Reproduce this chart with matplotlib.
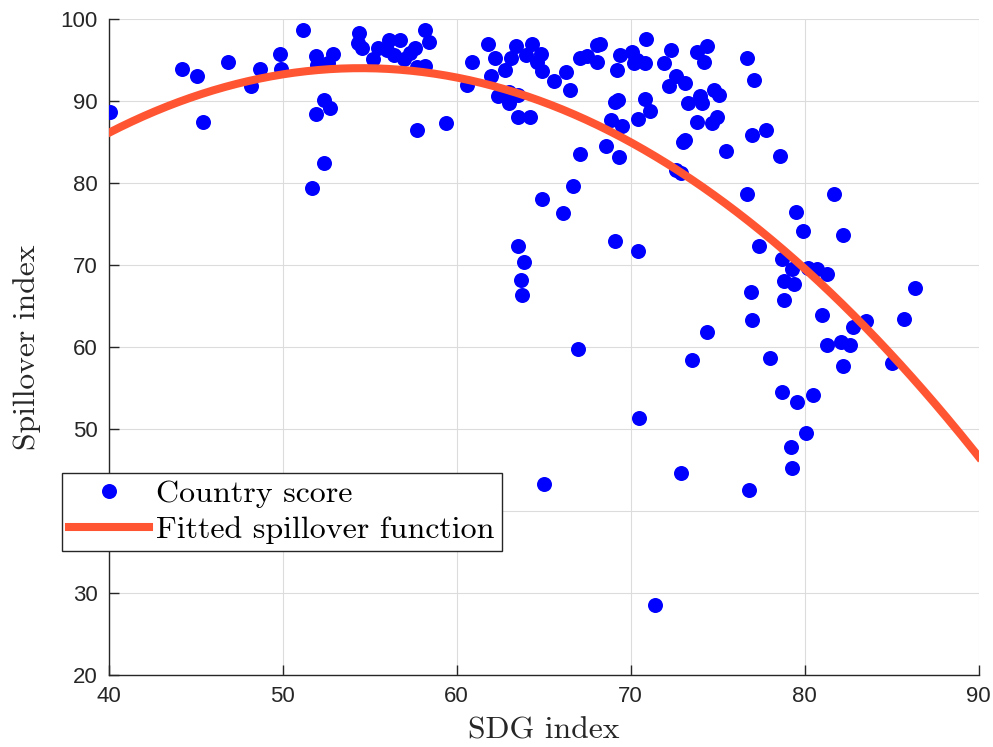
import numpy as np
import matplotlib
matplotlib.use("Agg")
import matplotlib.pyplot as plt

# ---- data ----
sdg = [
    40.1, 44.2, 45.1, 45.4, 46.85, 48.2, 48.7, 49.85, 49.9, 51.2,
    51.9, 52.9, 52.0, 52.6, 52.4, 52.7, 51.9, 52.4, 51.7, 54.4,
    54.35, 54.55, 55.2, 55.5, 56.1, 56.75, 56.0, 56.4, 57.0, 57.6,
    57.3, 58.2, 58.4, 57.7, 58.2, 57.7, 59.4, 60.6, 60.9, 61.8,
    62.2, 62.0, 62.8, 63.1, 63.4, 64.0, 64.35, 64.85, 64.6, 64.9,
    65.6, 66.3, 66.5, 62.4, 63.0, 63.5, 63.0, 63.5, 64.2, 67.1,
    67.5, 68.05, 68.05, 68.25, 69.2, 69.4, 70.1, 70.35, 70.8, 70.2,
    70.9, 71.9, 72.3, 72.6, 73.1, 72.2, 73.8, 74.4, 74.2, 76.7,
    77.1, 69.1, 69.3, 70.8, 71.1, 70.45, 68.9, 69.5, 73.3, 74.0,
    74.1, 74.8, 75.1, 73.8, 74.95, 74.7, 73.0, 73.1, 75.5, 77.0,
    77.8, 78.6, 72.6, 72.9, 68.6, 69.35, 67.1, 66.7, 64.9, 66.1,
    76.7, 81.7, 79.5, 79.9, 82.2, 77.35, 78.7, 79.3, 80.2, 80.7,
    81.3, 78.8, 79.4, 76.9, 78.8, 86.35, 76.97, 81.0, 83.5, 82.75,
    85.7, 74.4, 81.3, 82.1, 82.6, 82.2, 85.0, 73.5, 78.0, 63.55,
    63.9, 63.7, 63.75, 69.1, 70.45, 67.0, 70.5, 78.7, 79.55, 80.5,
    80.05, 79.2, 79.3, 72.9, 76.8, 65.0, 71.4,
]
spill = [
    88.6, 93.9, 93.0, 87.4, 94.7, 91.8, 93.9, 95.7, 93.9, 98.6,
    95.5, 95.7, 94.4, 94.6, 90.1, 89.2, 88.4, 82.4, 79.4, 98.3,
    97.1, 96.4, 95.1, 96.4, 97.4, 97.4, 96.2, 95.6, 95.1, 96.4,
    95.8, 98.7, 97.2, 94.2, 94.3, 86.4, 87.3, 91.9, 94.7, 97.0,
    95.2, 93.0, 93.8, 95.2, 96.7, 95.6, 96.95, 95.7, 94.7, 93.7,
    92.4, 93.5, 91.3, 90.6, 91.1, 90.7, 89.7, 88.1, 88.1, 95.2,
    95.5, 94.7, 96.8, 97.0, 93.8, 95.6, 96.0, 95.0, 94.6, 94.6,
    97.6, 94.6, 96.2, 93.0, 92.2, 91.8, 96.0, 96.7, 94.8, 95.2,
    92.6, 89.9, 90.1, 90.3, 88.8, 87.8, 87.7, 86.9, 89.8, 90.6,
    89.7, 91.3, 90.7, 87.4, 88.1, 87.3, 85.0, 85.3, 83.9, 85.9,
    86.5, 83.3, 81.6, 81.2, 84.5, 83.2, 83.5, 79.6, 78.0, 76.3,
    78.7, 78.6, 76.4, 74.2, 73.7, 72.3, 70.7, 69.5, 69.6, 69.5,
    68.9, 68.0, 67.7, 66.7, 65.7, 67.2, 63.3, 63.9, 63.2, 62.4,
    63.4, 61.8, 60.2, 60.6, 60.2, 57.7, 58.0, 58.4, 58.6, 72.3,
    70.4, 68.2, 66.3, 72.9, 71.7, 59.8, 51.3, 54.5, 53.3, 54.1,
    49.5, 47.8, 45.3, 44.6, 42.5, 43.3, 28.5,
]

# quadratic spillover function (coefficients)
fit_coef = [-0.0376, 4.0984, -17.68]

x_ticks = [40, 50, 60, 70, 80, 90]
y_ticks = [20, 30, 40, 50, 60, 70, 80, 90, 100]

# ---- figure ----
fig = plt.figure(figsize=(9.93, 7.47), dpi=100)
ax = fig.add_axes([0.1093, 0.0964, 0.8763, 0.8782])

ax.plot(sdg, spill, "o", color="#0000ff", markersize=10.8,
        markeredgewidth=0, label="Country score", zorder=3)

xx = np.linspace(40, 90, 300)
ax.plot(xx, np.polyval(fit_coef, xx), color="#ff5533", linewidth=5.8,
        label="Fitted spillover function", zorder=4)

ax.set_xlim(40, 90)
ax.set_ylim(20, 100)
ax.set_xticks(x_ticks)
ax.set_yticks(y_ticks)

ax.grid(True, color="#dcdcdc", linewidth=0.8)
ax.set_axisbelow(True)
for side in ["top", "right"]:
    ax.spines[side].set_visible(False)
for side in ["left", "bottom"]:
    ax.spines[side].set_color("#262626")
    ax.spines[side].set_linewidth(1.0)

ax.tick_params(direction="in", length=7, width=1.0, color="#262626",
               labelsize=16, labelcolor="#262626", pad=8)
for lab in ax.get_xticklabels() + ax.get_yticklabels():
    lab.set_fontfamily("Liberation Sans")

ax.set_xlabel("SDG index", fontfamily="cmr10", fontsize=22.8, labelpad=7,
              color="#262626")
ax.set_ylabel("Spillover index", fontfamily="cmr10", fontsize=22.8,
              labelpad=14, color="#262626")

leg = ax.legend(loc="upper left", bbox_to_anchor=(-0.0534, 0.308),
                borderaxespad=0, fancybox=False, framealpha=1,
                edgecolor="#262626", prop={"family": "cmr10", "size": 23},
                handlelength=2.5, handletextpad=0.22, labelspacing=0.23,
                borderpad=0.22)
leg.get_frame().set_linewidth(1.0)
leg.set_zorder(10)

fig.savefig("out.png", dpi=100)
